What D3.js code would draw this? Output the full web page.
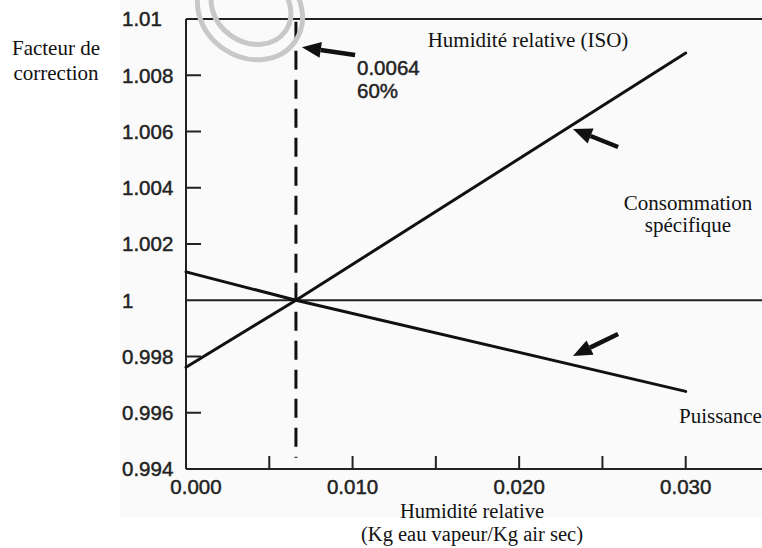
<!DOCTYPE html>
<html>
<head>
<meta charset="utf-8">
<script src="https://cdn.jsdelivr.net/npm/d3@7"></script>
<style>
  body { margin: 0; background: #fff; }
  svg { display: block; }
  .tick-label { font-family: "Liberation Sans", Arial, sans-serif; font-size: 20.5px; fill: #222; stroke: #222; stroke-width: 0.45px; }
  .note { font-family: "Liberation Serif", "Times New Roman", serif; font-size: 21px; fill: #111; }
  .note.axis { font-size: 20.5px; }
</style>
</head>
<body>
<script>
// values
const humidity = [0, 0.0066, 0.030];
const consommation = [0.99762, 1, 1.00879];
const puissance = [1.00101, 1, 0.99676];

const isoHumidity = 0.0066; // dashed reference line (labelled 0.0064 / 60%)

const xTickValues = [0.005, 0.01, 0.015, 0.02, 0.025, 0.03];
const xLabelValues = [0, 0.01, 0.02, 0.03];
const xLabels = ["0.000", "0.010", "0.020", "0.030"];

const yTickValues = [0.996, 0.998, 1.002, 1.004, 1.006, 1.008];
const yLabelValues = [0.994, 0.996, 0.998, 1, 1.002, 1.004, 1.006, 1.008, 1.01];
const yLabels = ["0.994", "0.996", "0.998", "1", "1.002", "1.004", "1.006", "1.008", "1.01"];

// annotation arrows [tail, head] in data units
const arrows = [
  [[0.01015, 1.00872], [0.00696, 1.0090]],
  [[0.02594, 1.00545], [0.02323, 1.00609]],
  [[0.02594, 0.99880], [0.02323, 0.99802]]
];

const W = 762, H = 548;
const margin = { left: 186, top: 19 };
const plotW = 583, plotH = 450;

const svg = d3.select("body").append("svg")
  .attr("width", W)
  .attr("height", H);

// faint scan background
svg.append("rect")
  .attr("x", 120).attr("y", 0)
  .attr("width", W - 120).attr("height", 517)
  .attr("fill", "#fafafa");

const x = d3.scaleLinear().domain([0, 0.035]).range([margin.left, margin.left + plotW]);
const y = d3.scaleLinear().domain([0.994, 1.01]).range([margin.top + plotH, margin.top]);

// frame: left, top, bottom
const frame = svg.append("g").attr("stroke", "#222").attr("stroke-width", 2).attr("fill", "none");
frame.append("line").attr("x1", x(0)).attr("x2", x(0)).attr("y1", y(1.01)).attr("y2", y(0.994));
frame.append("line").attr("x1", x(0)).attr("x2", x(0.035)).attr("y1", y(1.01)).attr("y2", y(1.01));
frame.append("line").attr("x1", x(0)).attr("x2", x(0.035)).attr("y1", y(0.994)).attr("y2", y(0.994));
// reference line at 1
frame.append("line").attr("x1", x(0)).attr("x2", x(0.035)).attr("y1", y(1)).attr("y2", y(1));

// ticks (inside)
frame.selectAll(".yt").data(yTickValues).join("line")
  .attr("x1", x(0)).attr("x2", x(0) + 15)
  .attr("y1", d => y(d)).attr("y2", d => y(d));
frame.selectAll(".xt").data(xTickValues).join("line")
  .attr("x1", d => x(d)).attr("x2", d => x(d))
  .attr("y1", y(0.994)).attr("y2", y(0.994) - 13);

// tick labels
svg.selectAll(".ylab").data(yLabelValues).join("text")
  .attr("class", "tick-label")
  .attr("x", 122)
  .attr("y", d => y(d))
  .attr("dy", "0.36em")
  .text((d, i) => yLabels[i]);

svg.selectAll(".xlab").data(xLabelValues).join("text")
  .attr("class", "tick-label")
  .attr("text-anchor", "middle")
  .attr("x", (d, i) => x(d) + (i === 0 ? 10 : 0))
  .attr("y", y(0.994) + 18)
  .attr("dy", "0.36em")
  .text((d, i) => xLabels[i]);

// dashed reference
svg.append("line")
  .attr("x1", x(isoHumidity)).attr("x2", x(isoHumidity))
  .attr("y1", y(1.0099)).attr("y2", y(0.9944))
  .attr("stroke", "#111").attr("stroke-width", 3)
  .attr("stroke-dasharray", "19,10");

// curves
const line = d3.line().x(d => x(d[0])).y(d => y(d[1]));
[consommation, puissance].forEach(series => {
  svg.append("path")
    .datum(humidity.map((h, i) => [h, series[i]]))
    .attr("d", line)
    .attr("fill", "none")
    .attr("stroke", "#111")
    .attr("stroke-width", 3)
    .attr("stroke-linejoin", "round")
    .attr("stroke-linecap", "round");
});

// arrows
arrows.forEach(([t, h]) => {
  const x0 = x(t[0]), y0 = y(t[1]), x1 = x(h[0]), y1 = y(h[1]);
  const len = Math.hypot(x1 - x0, y1 - y0);
  const ux = (x1 - x0) / len, uy = (y1 - y0) / len;
  const hl = 19, hw = 8;
  const bx = x1 - ux * hl, by = y1 - uy * hl;
  svg.append("line")
    .attr("x1", x0).attr("y1", y0).attr("x2", bx).attr("y2", by)
    .attr("stroke", "#111").attr("stroke-width", 4.5);
  svg.append("path")
    .attr("d", `M${x1},${y1}L${bx - uy * hw},${by + ux * hw}L${bx + uy * hw},${by - ux * hw}Z`)
    .attr("fill", "#111");
});

// gray loop (scan mark)
const loop = svg.append("g").attr("fill", "none").attr("stroke", "#c8c8c8").attr("stroke-width", 5);
loop.append("ellipse").attr("cx", 250).attr("cy", 10).attr("rx", 55).attr("ry", 47)
  .attr("transform", "rotate(35,250,10)");
loop.append("ellipse").attr("cx", 251).attr("cy", 7).attr("rx", 42).attr("ry", 35)
  .attr("transform", "rotate(35,251,7)");

// value annotation
svg.append("text").attr("class", "tick-label").attr("x", 357).attr("y", 75).text("0.0064");
svg.append("text").attr("class", "tick-label").attr("x", 357).attr("y", 98).text("60%");

// serif labels
const notes = [
  ["Facteur de", 56, 55, "middle", ""],
  ["correction", 56, 80, "middle", ""],
  ["Humidité relative (ISO)", 528, 47, "middle", ""],
  ["Consommation", 688, 210, "middle", ""],
  ["spécifique", 688, 232, "middle", ""],
  ["Puissance", 679, 423, "start", ""],
  ["Humidité relative", 472, 518, "middle", "axis"],
  ["(Kg eau vapeur/Kg air sec)", 472, 541, "middle", "axis"]
];
svg.selectAll(".note").data(notes).join("text")
  .attr("class", d => "note " + d[4])
  .attr("x", d => d[1]).attr("y", d => d[2])
  .attr("text-anchor", d => d[3])
  .text(d => d[0]);
</script>
</body>
</html>
